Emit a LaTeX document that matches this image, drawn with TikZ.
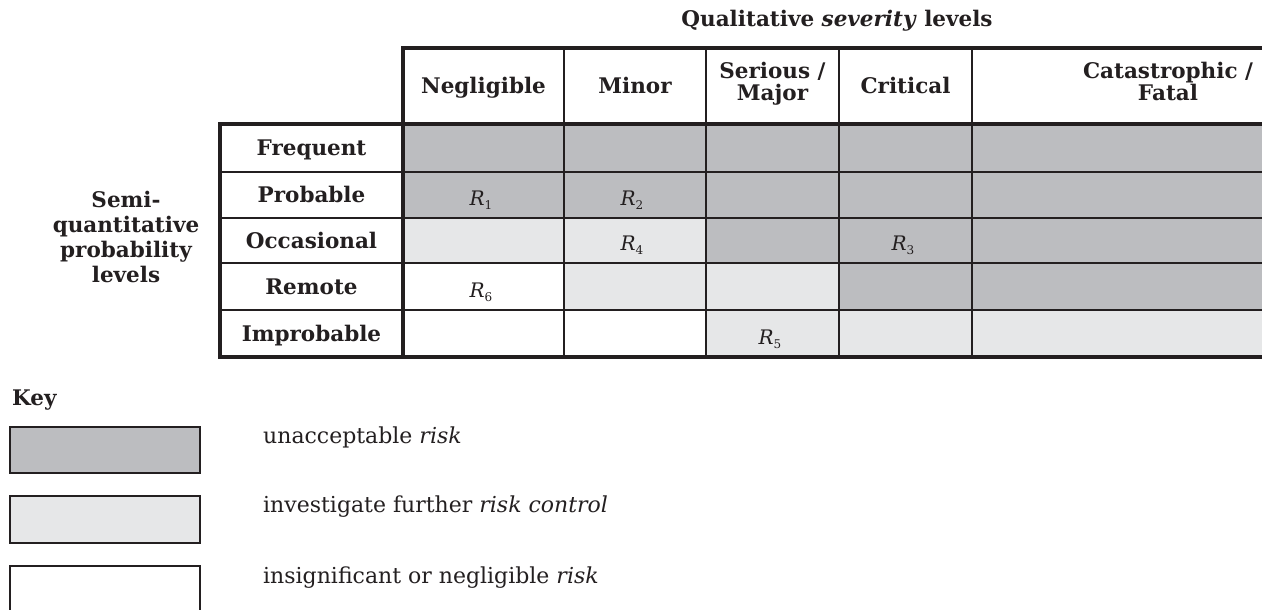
\documentclass[tikz,border=0pt]{standalone}
\usepackage{fontspec}
\setmainfont{DejaVu Serif}
\definecolor{dk}{HTML}{BCBDC0}
\definecolor{lt}{HTML}{E6E7E8}
\definecolor{ln}{HTML}{231F20}
\newcommand{\rk}[1]{{\fontsize{20}{20}\selectfont\itshape R}\raisebox{-0.45em}{\fontsize{12}{12}\selectfont #1}}
\begin{document}
\begin{tikzpicture}[x=1pt,y=-1pt,
  thinline/.style={line width=2pt, draw=ln},
  thickline/.style={line width=3.8pt, draw=ln, line cap=rect},
  hdr/.style={font=\bfseries\fontsize{21.5}{22}\selectfont, align=center, inner sep=0pt, anchor=base, text=ln},
  rowlab/.style={font=\bfseries\fontsize{21.5}{22}\selectfont, inner sep=0pt, anchor=base, text=ln},
  sidelab/.style={font=\bfseries\fontsize{21.5}{24.7}\selectfont, align=center, inner sep=0pt, anchor=base, text=ln},
  rval/.style={inner sep=0pt, anchor=base, text=ln},
  keytext/.style={anchor=base west, font=\fontsize{22}{24}\selectfont, inner sep=0pt, text=ln},
  keybox/.style={line width=2pt, draw=ln},
]
\useasboundingbox (0,0) rectangle (1262,610);
\clip (0,0) rectangle (1262,610);

% cell fills
\fill[dk] (403,124) rectangle (1364,218);
\fill[lt] (403,218) rectangle (706,263);
\fill[dk] (706,218) rectangle (1364,263);
\fill[lt] (564,263) rectangle (839,310);
\fill[dk] (839,263) rectangle (1364,310);
\fill[lt] (706,310) rectangle (1364,357);

% thin grid lines
\foreach \yy in {172,218,263,310} \draw[thinline] (220,\yy) -- (1364,\yy);
\foreach \xx in {564,706,839,972} \draw[thinline] (\xx,48) -- (\xx,357);

% thick lines
\draw[thickline] (403,357) -- (403,48) -- (1364,48);
\draw[thickline] (220,124) -- (1364,124);
\draw[thickline] (220,124) -- (220,357) -- (1364,357);

% title
\node[hdr] (title) at (837,27) {Qualitative \textit{severity} levels};

% column headers
\node[hdr] (h1) at (483.5,93) {Negligible};
\node[hdr] (h2) at (635,93) {Minor};
\node[hdr] (h3) at (772.5,100) {Serious /\\Major};
\node[hdr] (h4) at (905.5,93) {Critical};
\node[hdr] (h5) at (1168,100) {Catastrophic /\\Fatal};

% row labels
\node[rowlab] (r1) at (311.5,155.5) {Frequent};
\node[rowlab] (r2) at (311.5,202.5) {Probable};
\node[rowlab] (r3) at (311.5,248) {Occasional};
\node[rowlab] (r4) at (311.5,294) {Remote};
\node[rowlab] (r5) at (311.5,341) {Improbable};

% side label
\node[sidelab] (side) at (126,282) {Semi-\\quantitative\\probability\\levels};

% risk values
\node[rval] (R1) at (481,205) {\rk{1}};
\node[rval] (R2) at (632,205) {\rk{2}};
\node[rval] (R4) at (632,250) {\rk{4}};
\node[rval] (R3) at (903,250) {\rk{3}};
\node[rval] (R6) at (481,297) {\rk{6}};
\node[rval] (R5) at (770,344) {\rk{5}};

% key
\node[anchor=base west, inner sep=0pt, font=\bfseries\fontsize{21.5}{22}\selectfont, text=ln] (key) at (12,405) {Key};
\draw[keybox, fill=dk] (10,427) rectangle (200,473);
\draw[keybox, fill=lt] (10,496) rectangle (200,543);
\draw[keybox, fill=white] (10,566) rectangle (200,625);
\node[keytext] (k1) at (263,443) {unacceptable \textit{risk}};
\node[keytext] (k2) at (263,512) {investigate further \textit{risk control}};
\node[keytext] (k3) at (263,583) {insignificant or negligible \textit{risk}};
\end{tikzpicture}
\end{document}
